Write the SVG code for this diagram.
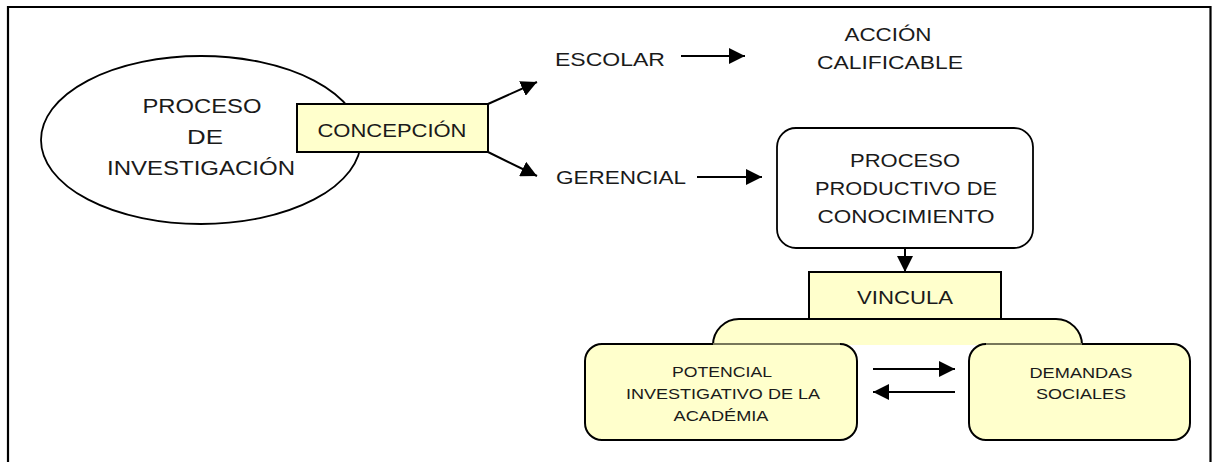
<svg xmlns="http://www.w3.org/2000/svg" width="1218" height="462" viewBox="0 0 1218 462">
<style>
  text { font-family: "Liberation Sans", Arial, sans-serif; fill: #1a1a1a; text-anchor: middle; }
  .t20 { font-size: 20px; }
  .t19 { font-size: 19px; }
  .t18 { font-size: 18px; }
  .t15 { font-size: 15.5px; }
  .ln { stroke: #000; stroke-width: 2; fill: none; }
  .yel { fill: #FFFFCC; stroke: #000; stroke-width: 2; }
  .wht { fill: #FFFFFF; stroke: #000; stroke-width: 1.8; }
</style>
<defs>
  <marker id="ah" viewBox="0 0 16 16" refX="16" refY="8" markerWidth="16" markerHeight="16" markerUnits="userSpaceOnUse" orient="auto">
    <path d="M0,0 L16,8 L0,16 z" fill="#000"/>
  </marker>
</defs>
<rect x="0" y="0" width="1218" height="462" fill="#fff"/>
<path d="M8,462 V7 H1210.5 V462" fill="none" stroke="#000" stroke-width="2.2"/>

<g id="proceso-investigacion">
  <ellipse cx="201" cy="140" rx="160" ry="84" class="wht"/>
  <text class="t20" x="202" y="113" textLength="119" lengthAdjust="spacingAndGlyphs">PROCESO</text>
  <text class="t20" x="205" y="144" textLength="36" lengthAdjust="spacingAndGlyphs">DE</text>
  <text class="t20" x="201" y="175" textLength="188" lengthAdjust="spacingAndGlyphs">INVESTIGACIÓN</text>
</g>

<g id="concepcion">
  <rect x="297" y="104" width="191" height="48" class="yel"/>
  <text class="t19" x="392" y="137" textLength="149" lengthAdjust="spacingAndGlyphs">CONCEPCIÓN</text>
</g>

<g id="escolar">
  <text class="t18" x="610" y="66" textLength="110" lengthAdjust="spacingAndGlyphs">ESCOLAR</text>
</g>

<g id="accion-calificable">
  <text class="t19" x="888" y="41" textLength="87" lengthAdjust="spacingAndGlyphs">ACCIÓN</text>
  <text class="t19" x="890" y="69" textLength="146" lengthAdjust="spacingAndGlyphs">CALIFICABLE</text>
</g>

<g id="gerencial">
  <text class="t18" x="621" y="184" textLength="130" lengthAdjust="spacingAndGlyphs">GERENCIAL</text>
</g>

<g id="proceso-productivo">
  <rect x="777" y="128" width="256" height="120" rx="19" ry="19" class="wht"/>
  <text class="t19" x="905" y="167" textLength="110" lengthAdjust="spacingAndGlyphs">PROCESO</text>
  <text class="t19" x="906" y="195" textLength="182" lengthAdjust="spacingAndGlyphs">PRODUCTIVO DE</text>
  <text class="t19" x="906" y="223" textLength="177" lengthAdjust="spacingAndGlyphs">CONOCIMIENTO</text>
</g>

<g id="tab">
  <path d="M713,345 A26,26 0 0 1 739,319 H1056 A26,26 0 0 1 1082,345 Z" fill="#FFFFCC" stroke="none"/>
  <path d="M713,345 A26,26 0 0 1 739,319 H1056 A26,26 0 0 1 1082,345" class="ln"/>
</g>

<g id="vincula">
  <rect x="809" y="272" width="192" height="47" class="yel"/>
  <text class="t18" x="905" y="304" textLength="96" lengthAdjust="spacingAndGlyphs">VINCULA</text>
</g>

<g id="potencial">
  <rect x="585" y="344" width="272" height="96" rx="17" ry="17" class="yel"/>
  <line x1="713" y1="344" x2="840" y2="344" stroke="#77775a" stroke-width="2"/>
  <text class="t15" x="722" y="377" textLength="100" lengthAdjust="spacingAndGlyphs">POTENCIAL</text>
  <text class="t15" x="723" y="399" textLength="194" lengthAdjust="spacingAndGlyphs">INVESTIGATIVO DE LA</text>
  <text class="t15" x="721" y="421" textLength="95" lengthAdjust="spacingAndGlyphs">ACADÉMIA</text>
</g>

<g id="demandas">
  <rect x="969" y="344" width="221" height="96" rx="17" ry="17" class="yel"/>
  <line x1="986" y1="344" x2="1082" y2="344" stroke="#77775a" stroke-width="2"/>
  <text class="t15" x="1081" y="378" textLength="103" lengthAdjust="spacingAndGlyphs">DEMANDAS</text>
  <text class="t15" x="1081" y="399" textLength="90" lengthAdjust="spacingAndGlyphs">SOCIALES</text>
</g>

<g id="connectors">
  <line x1="488" y1="104" x2="537" y2="82" class="ln" marker-end="url(#ah)"/>
  <line x1="488" y1="152" x2="537" y2="176" class="ln" marker-end="url(#ah)"/>
  <line x1="681" y1="56" x2="745" y2="56" class="ln" marker-end="url(#ah)"/>
  <line x1="697" y1="177" x2="762" y2="177" class="ln" marker-end="url(#ah)"/>
  <line x1="905" y1="248" x2="905" y2="272" class="ln" marker-end="url(#ah)"/>
  <line x1="873" y1="369" x2="955" y2="369" class="ln" marker-end="url(#ah)"/>
  <line x1="955" y1="392" x2="873" y2="392" class="ln" marker-end="url(#ah)"/>
</g>
</svg>
